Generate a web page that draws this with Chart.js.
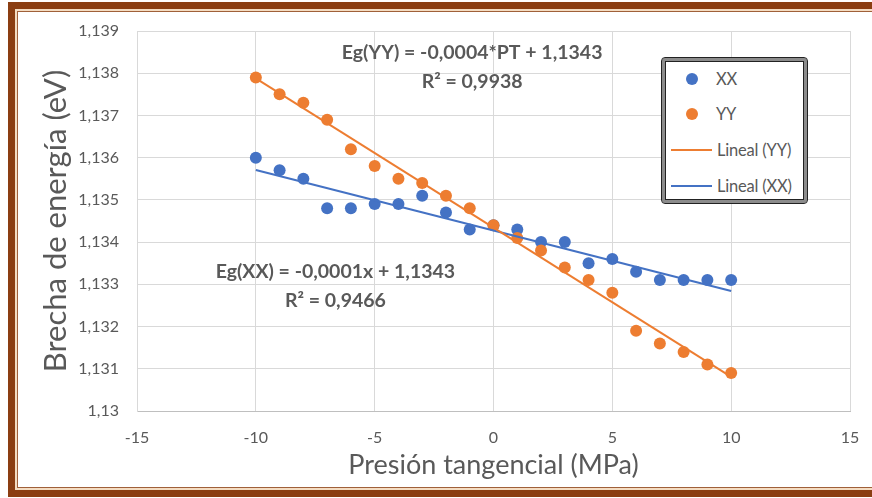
<!DOCTYPE html>
<html>
<head>
<meta charset="utf-8">
<script src="https://cdn.jsdelivr.net/npm/chart.js@4.4.0/dist/chart.umd.min.js"></script>
<style>
  html, body { margin: 0; padding: 0; background: #fff; }
  body { width: 872px; height: 498px; position: relative; overflow: hidden; font-family: Lato, sans-serif; }
  #frame {
    position: absolute; left: 8px; top: 2px; width: 890px; height: 495px;
    box-sizing: border-box; border: 7px solid #8b3e12;
    box-shadow: inset 0 0 0 2px #f4dcc2, inset 0 0 0 3px #a0603a;
  }
  #chart { position: absolute; left: 0; top: 0; }
  #legend {
    position: absolute; left: 662px; top: 58px; width: 145px; height: 145px;
    box-sizing: border-box; border: 3px solid #8c8c8c; border-radius: 3px;
    outline: 1px solid #222; box-shadow: inset 0 0 0 1px #222; background: #fff;
  }
  .item { position: absolute; left: 0; height: 20px; font-size: 16.5px; color: #595959; line-height: 20px; }
  .item .mk { position: absolute; top: 10px; }
  .item span { position: absolute; left: 52px; white-space: nowrap; letter-spacing: -0.2px; }
</style>
</head>
<body>
<div id="frame"></div>
<canvas id="chart" width="872" height="498"></canvas>
<div id="legend"></div>
<script>
// Presión tangencial (MPa)
const pressure = [-10, -9, -8, -7, -6, -5, -4, -3, -2, -1, 0, 1, 2, 3, 4, 5, 6, 7, 8, 9, 10];
// Brecha de energía (eV)
const egXX = [1.1360, 1.1357, 1.1355, 1.1348, 1.1348, 1.1349, 1.1349, 1.1351, 1.1347, 1.1343, 1.1344,
              1.1343, 1.1340, 1.1340, 1.1335, 1.1336, 1.1333, 1.1331, 1.1331, 1.1331, 1.1331];
const egYY = [1.1379, 1.1375, 1.1373, 1.1369, 1.1362, 1.1358, 1.1355, 1.1354, 1.1351, 1.1348, 1.1344,
              1.1341, 1.1338, 1.1334, 1.1331, 1.1328, 1.1319, 1.1316, 1.1314, 1.1311, 1.1309];
// trendline ends (Lineal) as drawn
const trendX = [-10, 10];
const trendXX = [1.13571, 1.13284];
const trendYY = [1.13788, 1.13081];

const xTicks = [-15, -10, -5, 0, 5, 10, 15];
const yTicks = [1.13, 1.131, 1.132, 1.133, 1.134, 1.135, 1.136, 1.137, 1.138, 1.139];

const BLUE = "#4472c4";
const ORANGE = "#ed7d31";
const TXT = "#595959";
const FONT = "Lato, sans-serif";

const pts = (xs, ys) => xs.map((x, i) => ({ x: x, y: ys[i] }));
const comma = v => String(Number(v.toFixed(3))).replace(".", ",");

// equation labels, placed in data units
const notes = [
  { x: -0.9, y: 1.13848, lines: ["Eg(YY) = -0,0004*PT + 1,1343", "R\u00b2 = 0,9938"] },
  { x: -6.65, y: 1.13329, lines: ["Eg(XX) = -0,0001x + 1,1343", "R\u00b2 = 0,9466"] }
];

const notePlugin = {
  id: "notes",
  afterDatasetsDraw(chart) {
    const ctx = chart.ctx;
    const xs = chart.scales.x, ys = chart.scales.y;
    ctx.save();
    ctx.fillStyle = TXT;
    ctx.font = "bold 19.5px " + FONT;
    ctx.textAlign = "center";
    ctx.textBaseline = "middle";
    notes.forEach(n => {
      const px = xs.getPixelForValue(n.x), py = ys.getPixelForValue(n.y);
      n.lines.forEach((t, i) => ctx.fillText(t, px, py + i * 29));
    });
    ctx.restore();
  }
};

const chart = new Chart(document.getElementById("chart"), {
  type: "scatter",
  data: {
    datasets: [
      { label: "XX", data: pts(pressure, egXX), backgroundColor: BLUE, borderWidth: 0, pointRadius: 6, order: 2 },
      { label: "YY", data: pts(pressure, egYY), backgroundColor: ORANGE, borderWidth: 0, pointRadius: 6, order: 1 },
      { label: "Lineal (YY)", data: pts(trendX, trendYY), showLine: true, borderColor: ORANGE, borderWidth: 2, pointRadius: 0, order: 0 },
      { label: "Lineal (XX)", data: pts(trendX, trendXX), showLine: true, borderColor: BLUE, borderWidth: 2, pointRadius: 0, order: 0 }
    ]
  },
  options: {
    responsive: false,
    animation: false,
    layout: { padding: { left: 24, top: 31, right: 22, bottom: 0 } },
    plugins: { legend: { display: false }, tooltip: { enabled: false } },
    scales: {
      x: {
        min: -15, max: 15,
        afterBuildTicks: s => { s.ticks = xTicks.map(v => ({ value: v })); },
        afterFit: s => { s.height = 87; s.paddingLeft = 0; s.paddingRight = 0; },
        grid: { color: "#d9d9d9", drawTicks: false },
        border: { color: "#bfbfbf" },
        ticks: { padding: 17, color: TXT, font: { family: FONT, size: 16 }, maxRotation: 0 },
        title: { display: true, text: "Presión tangencial (MPa)", color: TXT, font: { family: FONT, size: 27 }, padding: { top: 0, bottom: 17 } }
      },
      y: {
        min: 1.13, max: 1.139,
        afterBuildTicks: s => { s.ticks = yTicks.map(v => ({ value: v })); },
        afterFit: s => { s.width = 113; s.paddingTop = 0; s.paddingBottom = 0; },
        grid: { color: "#d9d9d9", drawTicks: false },
        border: { color: "#d9d9d9" },
        ticks: { padding: 18, color: TXT, font: { family: FONT, size: 16 }, callback: v => comma(v) },
        title: { display: true, text: "Brecha de energía (eV)", color: TXT, font: { family: FONT, size: 31 }, padding: { top: 13, bottom: 0 } }
      }
    }
  },
  plugins: [notePlugin]
});

// legend box built from the datasets
const legend = document.getElementById("legend");
const rowsY = [8, 43, 79, 115];
[0, 1, 2, 3].forEach((di, i) => {
  const ds = chart.data.datasets[di];
  const row = document.createElement("div");
  row.className = "item";
  row.style.top = rowsY[i] + "px";
  row.style.width = "140px";
  const mk = document.createElement("div");
  mk.className = "mk";
  if (ds.showLine) {
    mk.style.cssText = "left:6px;width:41px;height:2px;margin-top:-1px;background:" + ds.borderColor;
  } else {
    mk.style.cssText = "left:21px;width:12px;height:12px;margin-top:-6px;border-radius:50%;background:" + ds.backgroundColor;
  }
  const sp = document.createElement("span");
  sp.textContent = ds.label;
  if (!ds.showLine) sp.style.left = "51px";
  row.appendChild(mk);
  row.appendChild(sp);
  legend.appendChild(row);
});
</script>
</body>
</html>
